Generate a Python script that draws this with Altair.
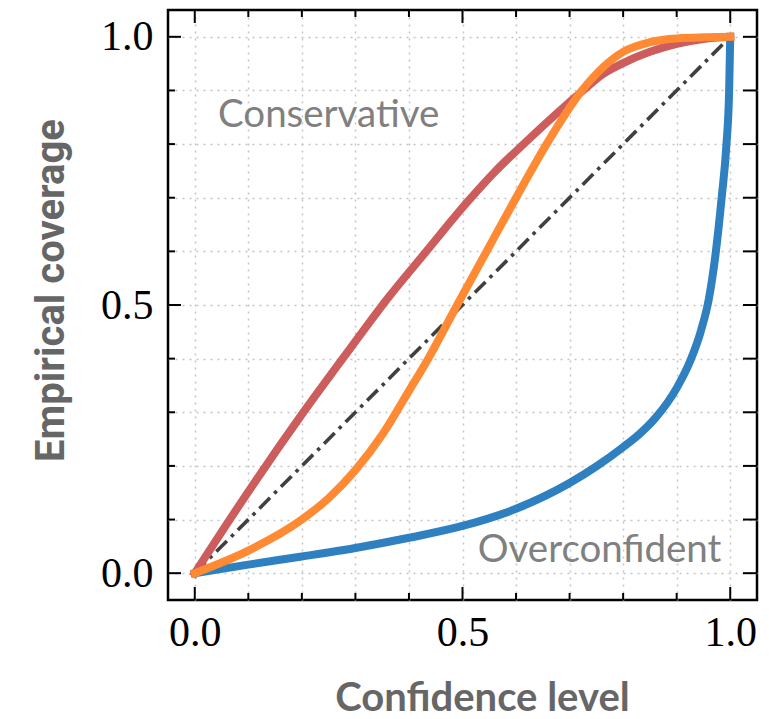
import altair as alt
import pandas as pd

# Calibration curves: nominal confidence level vs. empirical coverage
conf_blue = [0.0, 0.1, 0.2, 0.3, 0.4, 0.5, 0.6, 0.7, 0.75, 0.8, 0.83, 0.86, 0.9, 0.925, 0.945, 0.96, 0.972, 0.984, 0.993, 0.998, 1.0]
cov_blue = [0.0, 0.016, 0.031, 0.047, 0.066, 0.088, 0.12, 0.168, 0.199, 0.235, 0.259, 0.289, 0.345, 0.395, 0.451, 0.511, 0.59, 0.7, 0.8, 0.9, 1.0]

conf_red = [0.0, 0.1, 0.2, 0.3, 0.36, 0.43, 0.51, 0.56, 0.614, 0.725, 0.76, 0.8, 0.85, 0.9, 0.95, 1.0]
cov_red = [0.0, 0.152, 0.296, 0.432, 0.512, 0.597, 0.693, 0.748, 0.8, 0.9, 0.929, 0.951, 0.972, 0.987, 0.996, 1.0]

conf_orange = [0.0, 0.1, 0.2, 0.25, 0.3, 0.35, 0.4, 0.436, 0.49, 0.545, 0.6, 0.657, 0.723, 0.8, 0.85, 0.9, 1.0]
cov_orange = [0.0, 0.042, 0.1, 0.14, 0.192, 0.258, 0.34, 0.4, 0.5, 0.6, 0.7, 0.8, 0.9, 0.972, 0.99, 0.997, 1.0]

conf_ideal = [0.0, 1.0]
cov_ideal = [0.0, 1.0]

tick_values = [0.0, 0.1, 0.2, 0.3, 0.4, 0.5, 0.6, 0.7, 0.8, 0.9, 1.0]
major_ticks = [0.0, 0.5, 1.0]
minor_ticks = [0.1, 0.2, 0.3, 0.4, 0.6, 0.7, 0.8, 0.9]
tick_labels = ["0.0", "0.5", "1.0"]

note_text = ["Conservative", "Overconfident"]
note_x = [0.25, 0.756]
note_y = [0.832, 0.0205]

W, H = 589, 590
domain = [-0.05, 1.05]
xscale = alt.Scale(domain=domain, nice=False, zero=False)
yscale = alt.Scale(domain=domain, nice=False, zero=False)

label_expr = "indexof(" + str(tick_labels) + ", datum.label) >= 0 ? datum.label : ''"

common_axis = dict(
    values=tick_values,
    format=".1f",
    labelExpr=label_expr,
    grid=True,
    gridDash=[2, 5],
    gridColor="#c4c4c4",
    gridWidth=1.5,
    domain=False,
    ticks=False,
    labelFont="Liberation Serif",
    labelFontSize=42,
    labelColor="black",
    labelFlush=False,
    labelOverlap=False,
    titleColor="#666666",
    titleFontWeight="bold",
    titleBaseline="alphabetic",
)

xaxis = alt.Axis(
    labelPadding=12,
    title="Confidence level",
    titleFont="Lato",
    titleFontSize=40,
    titleX=314,
    titleY=110,
    **common_axis,
)
yaxis = alt.Axis(
    labelPadding=15,
    title="Empirical coverage",
    titleFont="Roboto",
    titleFontSize=40,
    titleX=-105,
    titleY=280,
    titleAngle=-90,
    **common_axis,
)


def xenc(field):
    return alt.X(field, type="quantitative", scale=xscale, axis=xaxis)


def yenc(field):
    return alt.Y(field, type="quantitative", scale=yscale, axis=yaxis)


def curve(xv, yv, color, width, dash=None):
    df = pd.DataFrame({"confidence": xv, "coverage": yv})
    props = dict(color=color, strokeWidth=width, interpolate="monotone")
    if dash:
        props["strokeDash"] = dash
        props["strokeCap"] = "butt"
    else:
        props["strokeCap"] = "square"
    return alt.Chart(df).mark_line(**props).encode(
        x=xenc("confidence"), y=yenc("coverage")
    )


ideal = curve(conf_ideal, cov_ideal, "#404040", 3.6, dash=[15, 6, 3.5, 6])
blue = curve(conf_blue, cov_blue, "#2f80c0", 8)
red = curve(conf_red, cov_red, "#cd5c5c", 8)
orange = curve(conf_orange, cov_orange, "#ff8a33", 8)

notes = alt.Chart(pd.DataFrame({"txt": note_text, "nx": note_x, "ny": note_y})).mark_text(
    font="Lato", fontSize=38.5, color="#808080", align="center", baseline="alphabetic"
).encode(x=xenc("nx"), y=yenc("ny"), text="txt:N")


# inward-pointing ticks on all four sides of the frame
def side_ticks(values, side, length):
    df = pd.DataFrame({"t": values})
    base = alt.Chart(df).mark_rule(color="black", strokeWidth=2)
    if side == "bottom":
        return base.encode(x=xenc("t"), y=alt.value(H), y2=alt.value(H - length))
    if side == "top":
        return base.encode(x=xenc("t"), y=alt.value(0), y2=alt.value(length))
    if side == "left":
        return base.encode(y=yenc("t"), x=alt.value(0), x2=alt.value(length))
    return base.encode(y=yenc("t"), x=alt.value(W), x2=alt.value(W - length))


ticks = [
    side_ticks(major_ticks, "bottom", 13),
    side_ticks(minor_ticks, "bottom", 7),
    side_ticks(major_ticks, "top", 13),
    side_ticks(minor_ticks, "top", 7),
    side_ticks(major_ticks, "left", 13),
    side_ticks(minor_ticks, "left", 7),
    side_ticks(tick_values, "right", 14),
]

chart = (
    alt.layer(ideal, blue, red, orange, notes, *ticks)
    .properties(
        width=W,
        height=H,
        padding={"left": 168, "top": 10, "right": 12, "bottom": 119},
        autosize=alt.AutoSizeParams(type="none"),
        background="white",
    )
    .configure_view(stroke="black", strokeWidth=2.5)
)

chart.save("out.html", embed_options={"renderer": "svg", "actions": False})
